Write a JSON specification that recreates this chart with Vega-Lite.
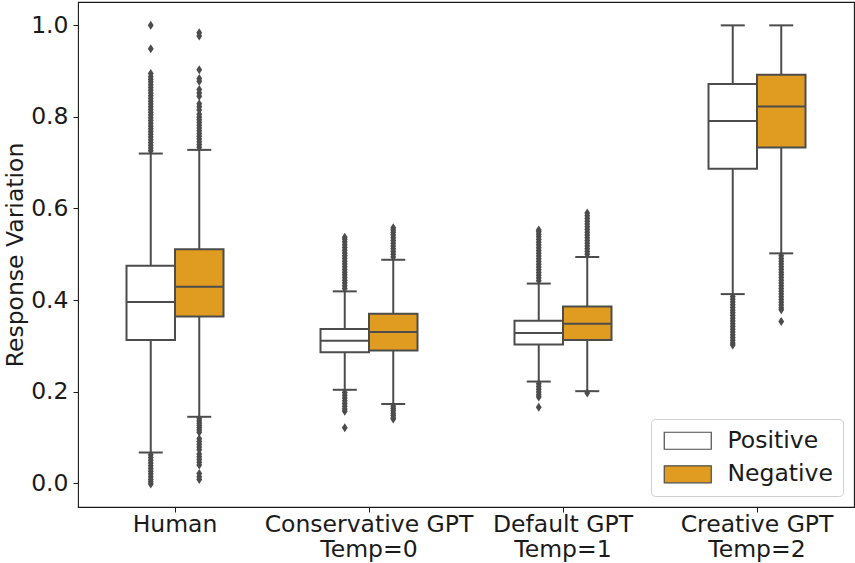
{
  "$schema": "https://vega.github.io/schema/vega-lite/v6.json",
  "width": 776,
  "height": 505,
  "autosize": {"type": "none"},
  "padding": {"left": 78, "top": 2, "right": 1, "bottom": 56},
  "background": "white",
  "config": {
    "font": "DejaVu Sans",
    "view": {"stroke": "#1a1a1a", "strokeWidth": 1.1},
    "axis": {
      "labelFont": "DejaVu Sans",
      "labelFontSize": 23.5,
      "labelColor": "#1a1a1a",
      "labelLimit": 0,
      "tickColor": "#1a1a1a",
      "tickSize": 5,
      "tickWidth": 1,
      "domain": false,
      "grid": false,
      "titleFont": "DejaVu Sans",
      "titleFontSize": 23.5,
      "titleFontWeight": "normal",
      "titleColor": "#1a1a1a"
    },
    "legend": {
      "orient": "bottom-right",
      "offset": 11,
      "padding": 10,
      "fillColor": "white",
      "strokeColor": "#d0d0d0",
      "cornerRadius": 4,
      "labelFont": "DejaVu Sans",
      "labelFontSize": 23.5,
      "labelColor": "#1a1a1a",
      "labelLimit": 0,
      "symbolType": "M-1,-1H4.53V1H-1Z",
      "symbolSize": 289,
      "symbolStrokeColor": "#4c4c4c",
      "symbolStrokeWidth": 1.2,
      "symbolOffset": 0,
      "labelOffset": 43,
      "rowPadding": 8.6
    }
  },
  "datasets": {
    "stats": [
      {"group": "Human", "sentiment": "Positive", "lo": 0.067, "q1": 0.313, "med": 0.396, "q3": 0.475, "hi": 0.720},
      {"group": "Human", "sentiment": "Negative", "lo": 0.145, "q1": 0.364, "med": 0.429, "q3": 0.511, "hi": 0.728},
      {"group": "Conservative GPT|Temp=0", "sentiment": "Positive", "lo": 0.204, "q1": 0.286, "med": 0.311, "q3": 0.337, "hi": 0.419},
      {"group": "Conservative GPT|Temp=0", "sentiment": "Negative", "lo": 0.173, "q1": 0.290, "med": 0.330, "q3": 0.370, "hi": 0.488},
      {"group": "Default GPT|Temp=1", "sentiment": "Positive", "lo": 0.222, "q1": 0.303, "med": 0.328, "q3": 0.355, "hi": 0.436},
      {"group": "Default GPT|Temp=1", "sentiment": "Negative", "lo": 0.201, "q1": 0.313, "med": 0.348, "q3": 0.386, "hi": 0.494},
      {"group": "Creative GPT|Temp=2", "sentiment": "Positive", "lo": 0.413, "q1": 0.687, "med": 0.791, "q3": 0.872, "hi": 1.0},
      {"group": "Creative GPT|Temp=2", "sentiment": "Negative", "lo": 0.502, "q1": 0.733, "med": 0.823, "q3": 0.892, "hi": 1.0}
    ],
    "fliers": [
      {"group": "Human", "sentiment": "Positive", "value": 0.726},
      {"group": "Human", "sentiment": "Positive", "value": 0.732},
      {"group": "Human", "sentiment": "Positive", "value": 0.738},
      {"group": "Human", "sentiment": "Positive", "value": 0.744},
      {"group": "Human", "sentiment": "Positive", "value": 0.750},
      {"group": "Human", "sentiment": "Positive", "value": 0.756},
      {"group": "Human", "sentiment": "Positive", "value": 0.762},
      {"group": "Human", "sentiment": "Positive", "value": 0.768},
      {"group": "Human", "sentiment": "Positive", "value": 0.774},
      {"group": "Human", "sentiment": "Positive", "value": 0.780},
      {"group": "Human", "sentiment": "Positive", "value": 0.786},
      {"group": "Human", "sentiment": "Positive", "value": 0.792},
      {"group": "Human", "sentiment": "Positive", "value": 0.798},
      {"group": "Human", "sentiment": "Positive", "value": 0.804},
      {"group": "Human", "sentiment": "Positive", "value": 0.810},
      {"group": "Human", "sentiment": "Positive", "value": 0.816},
      {"group": "Human", "sentiment": "Positive", "value": 0.822},
      {"group": "Human", "sentiment": "Positive", "value": 0.828},
      {"group": "Human", "sentiment": "Positive", "value": 0.834},
      {"group": "Human", "sentiment": "Positive", "value": 0.840},
      {"group": "Human", "sentiment": "Positive", "value": 0.846},
      {"group": "Human", "sentiment": "Positive", "value": 0.852},
      {"group": "Human", "sentiment": "Positive", "value": 0.858},
      {"group": "Human", "sentiment": "Positive", "value": 0.864},
      {"group": "Human", "sentiment": "Positive", "value": 0.870},
      {"group": "Human", "sentiment": "Positive", "value": 0.876},
      {"group": "Human", "sentiment": "Positive", "value": 0.882},
      {"group": "Human", "sentiment": "Positive", "value": 0.888},
      {"group": "Human", "sentiment": "Positive", "value": 0.895},
      {"group": "Human", "sentiment": "Positive", "value": 0.949},
      {"group": "Human", "sentiment": "Positive", "value": 1.0},
      {"group": "Human", "sentiment": "Positive", "value": 0.062},
      {"group": "Human", "sentiment": "Positive", "value": 0.056},
      {"group": "Human", "sentiment": "Positive", "value": 0.050},
      {"group": "Human", "sentiment": "Positive", "value": 0.044},
      {"group": "Human", "sentiment": "Positive", "value": 0.038},
      {"group": "Human", "sentiment": "Positive", "value": 0.032},
      {"group": "Human", "sentiment": "Positive", "value": 0.026},
      {"group": "Human", "sentiment": "Positive", "value": 0.020},
      {"group": "Human", "sentiment": "Positive", "value": 0.014},
      {"group": "Human", "sentiment": "Positive", "value": 0.008},
      {"group": "Human", "sentiment": "Positive", "value": 0.003},
      {"group": "Human", "sentiment": "Positive", "value": -0.002},
      {"group": "Human", "sentiment": "Negative", "value": 0.734},
      {"group": "Human", "sentiment": "Negative", "value": 0.740},
      {"group": "Human", "sentiment": "Negative", "value": 0.746},
      {"group": "Human", "sentiment": "Negative", "value": 0.752},
      {"group": "Human", "sentiment": "Negative", "value": 0.758},
      {"group": "Human", "sentiment": "Negative", "value": 0.764},
      {"group": "Human", "sentiment": "Negative", "value": 0.770},
      {"group": "Human", "sentiment": "Negative", "value": 0.776},
      {"group": "Human", "sentiment": "Negative", "value": 0.782},
      {"group": "Human", "sentiment": "Negative", "value": 0.788},
      {"group": "Human", "sentiment": "Negative", "value": 0.794},
      {"group": "Human", "sentiment": "Negative", "value": 0.800},
      {"group": "Human", "sentiment": "Negative", "value": 0.806},
      {"group": "Human", "sentiment": "Negative", "value": 0.815},
      {"group": "Human", "sentiment": "Negative", "value": 0.822},
      {"group": "Human", "sentiment": "Negative", "value": 0.829},
      {"group": "Human", "sentiment": "Negative", "value": 0.845},
      {"group": "Human", "sentiment": "Negative", "value": 0.852},
      {"group": "Human", "sentiment": "Negative", "value": 0.860},
      {"group": "Human", "sentiment": "Negative", "value": 0.878},
      {"group": "Human", "sentiment": "Negative", "value": 0.884},
      {"group": "Human", "sentiment": "Negative", "value": 0.903},
      {"group": "Human", "sentiment": "Negative", "value": 0.977},
      {"group": "Human", "sentiment": "Negative", "value": 0.984},
      {"group": "Human", "sentiment": "Negative", "value": 0.141},
      {"group": "Human", "sentiment": "Negative", "value": 0.136},
      {"group": "Human", "sentiment": "Negative", "value": 0.131},
      {"group": "Human", "sentiment": "Negative", "value": 0.126},
      {"group": "Human", "sentiment": "Negative", "value": 0.121},
      {"group": "Human", "sentiment": "Negative", "value": 0.116},
      {"group": "Human", "sentiment": "Negative", "value": 0.111},
      {"group": "Human", "sentiment": "Negative", "value": 0.097},
      {"group": "Human", "sentiment": "Negative", "value": 0.091},
      {"group": "Human", "sentiment": "Negative", "value": 0.085},
      {"group": "Human", "sentiment": "Negative", "value": 0.079},
      {"group": "Human", "sentiment": "Negative", "value": 0.073},
      {"group": "Human", "sentiment": "Negative", "value": 0.064},
      {"group": "Human", "sentiment": "Negative", "value": 0.058},
      {"group": "Human", "sentiment": "Negative", "value": 0.052},
      {"group": "Human", "sentiment": "Negative", "value": 0.046},
      {"group": "Human", "sentiment": "Negative", "value": 0.040},
      {"group": "Human", "sentiment": "Negative", "value": 0.021},
      {"group": "Human", "sentiment": "Negative", "value": 0.014},
      {"group": "Human", "sentiment": "Negative", "value": 0.008},
      {"group": "Conservative GPT|Temp=0", "sentiment": "Positive", "value": 0.425},
      {"group": "Conservative GPT|Temp=0", "sentiment": "Positive", "value": 0.431},
      {"group": "Conservative GPT|Temp=0", "sentiment": "Positive", "value": 0.437},
      {"group": "Conservative GPT|Temp=0", "sentiment": "Positive", "value": 0.443},
      {"group": "Conservative GPT|Temp=0", "sentiment": "Positive", "value": 0.449},
      {"group": "Conservative GPT|Temp=0", "sentiment": "Positive", "value": 0.455},
      {"group": "Conservative GPT|Temp=0", "sentiment": "Positive", "value": 0.461},
      {"group": "Conservative GPT|Temp=0", "sentiment": "Positive", "value": 0.467},
      {"group": "Conservative GPT|Temp=0", "sentiment": "Positive", "value": 0.473},
      {"group": "Conservative GPT|Temp=0", "sentiment": "Positive", "value": 0.479},
      {"group": "Conservative GPT|Temp=0", "sentiment": "Positive", "value": 0.485},
      {"group": "Conservative GPT|Temp=0", "sentiment": "Positive", "value": 0.491},
      {"group": "Conservative GPT|Temp=0", "sentiment": "Positive", "value": 0.497},
      {"group": "Conservative GPT|Temp=0", "sentiment": "Positive", "value": 0.503},
      {"group": "Conservative GPT|Temp=0", "sentiment": "Positive", "value": 0.509},
      {"group": "Conservative GPT|Temp=0", "sentiment": "Positive", "value": 0.515},
      {"group": "Conservative GPT|Temp=0", "sentiment": "Positive", "value": 0.521},
      {"group": "Conservative GPT|Temp=0", "sentiment": "Positive", "value": 0.527},
      {"group": "Conservative GPT|Temp=0", "sentiment": "Positive", "value": 0.533},
      {"group": "Conservative GPT|Temp=0", "sentiment": "Positive", "value": 0.537},
      {"group": "Conservative GPT|Temp=0", "sentiment": "Positive", "value": 0.198},
      {"group": "Conservative GPT|Temp=0", "sentiment": "Positive", "value": 0.192},
      {"group": "Conservative GPT|Temp=0", "sentiment": "Positive", "value": 0.186},
      {"group": "Conservative GPT|Temp=0", "sentiment": "Positive", "value": 0.180},
      {"group": "Conservative GPT|Temp=0", "sentiment": "Positive", "value": 0.174},
      {"group": "Conservative GPT|Temp=0", "sentiment": "Positive", "value": 0.168},
      {"group": "Conservative GPT|Temp=0", "sentiment": "Positive", "value": 0.162},
      {"group": "Conservative GPT|Temp=0", "sentiment": "Positive", "value": 0.157},
      {"group": "Conservative GPT|Temp=0", "sentiment": "Positive", "value": 0.121},
      {"group": "Conservative GPT|Temp=0", "sentiment": "Negative", "value": 0.494},
      {"group": "Conservative GPT|Temp=0", "sentiment": "Negative", "value": 0.500},
      {"group": "Conservative GPT|Temp=0", "sentiment": "Negative", "value": 0.506},
      {"group": "Conservative GPT|Temp=0", "sentiment": "Negative", "value": 0.512},
      {"group": "Conservative GPT|Temp=0", "sentiment": "Negative", "value": 0.518},
      {"group": "Conservative GPT|Temp=0", "sentiment": "Negative", "value": 0.524},
      {"group": "Conservative GPT|Temp=0", "sentiment": "Negative", "value": 0.530},
      {"group": "Conservative GPT|Temp=0", "sentiment": "Negative", "value": 0.536},
      {"group": "Conservative GPT|Temp=0", "sentiment": "Negative", "value": 0.542},
      {"group": "Conservative GPT|Temp=0", "sentiment": "Negative", "value": 0.548},
      {"group": "Conservative GPT|Temp=0", "sentiment": "Negative", "value": 0.553},
      {"group": "Conservative GPT|Temp=0", "sentiment": "Negative", "value": 0.558},
      {"group": "Conservative GPT|Temp=0", "sentiment": "Negative", "value": 0.168},
      {"group": "Conservative GPT|Temp=0", "sentiment": "Negative", "value": 0.163},
      {"group": "Conservative GPT|Temp=0", "sentiment": "Negative", "value": 0.158},
      {"group": "Conservative GPT|Temp=0", "sentiment": "Negative", "value": 0.153},
      {"group": "Conservative GPT|Temp=0", "sentiment": "Negative", "value": 0.148},
      {"group": "Conservative GPT|Temp=0", "sentiment": "Negative", "value": 0.143},
      {"group": "Conservative GPT|Temp=0", "sentiment": "Negative", "value": 0.140},
      {"group": "Default GPT|Temp=1", "sentiment": "Positive", "value": 0.442},
      {"group": "Default GPT|Temp=1", "sentiment": "Positive", "value": 0.448},
      {"group": "Default GPT|Temp=1", "sentiment": "Positive", "value": 0.454},
      {"group": "Default GPT|Temp=1", "sentiment": "Positive", "value": 0.460},
      {"group": "Default GPT|Temp=1", "sentiment": "Positive", "value": 0.466},
      {"group": "Default GPT|Temp=1", "sentiment": "Positive", "value": 0.472},
      {"group": "Default GPT|Temp=1", "sentiment": "Positive", "value": 0.478},
      {"group": "Default GPT|Temp=1", "sentiment": "Positive", "value": 0.484},
      {"group": "Default GPT|Temp=1", "sentiment": "Positive", "value": 0.490},
      {"group": "Default GPT|Temp=1", "sentiment": "Positive", "value": 0.496},
      {"group": "Default GPT|Temp=1", "sentiment": "Positive", "value": 0.502},
      {"group": "Default GPT|Temp=1", "sentiment": "Positive", "value": 0.508},
      {"group": "Default GPT|Temp=1", "sentiment": "Positive", "value": 0.514},
      {"group": "Default GPT|Temp=1", "sentiment": "Positive", "value": 0.520},
      {"group": "Default GPT|Temp=1", "sentiment": "Positive", "value": 0.526},
      {"group": "Default GPT|Temp=1", "sentiment": "Positive", "value": 0.532},
      {"group": "Default GPT|Temp=1", "sentiment": "Positive", "value": 0.538},
      {"group": "Default GPT|Temp=1", "sentiment": "Positive", "value": 0.544},
      {"group": "Default GPT|Temp=1", "sentiment": "Positive", "value": 0.549},
      {"group": "Default GPT|Temp=1", "sentiment": "Positive", "value": 0.553},
      {"group": "Default GPT|Temp=1", "sentiment": "Positive", "value": 0.217},
      {"group": "Default GPT|Temp=1", "sentiment": "Positive", "value": 0.211},
      {"group": "Default GPT|Temp=1", "sentiment": "Positive", "value": 0.205},
      {"group": "Default GPT|Temp=1", "sentiment": "Positive", "value": 0.199},
      {"group": "Default GPT|Temp=1", "sentiment": "Positive", "value": 0.193},
      {"group": "Default GPT|Temp=1", "sentiment": "Positive", "value": 0.188},
      {"group": "Default GPT|Temp=1", "sentiment": "Positive", "value": 0.166},
      {"group": "Default GPT|Temp=1", "sentiment": "Negative", "value": 0.500},
      {"group": "Default GPT|Temp=1", "sentiment": "Negative", "value": 0.506},
      {"group": "Default GPT|Temp=1", "sentiment": "Negative", "value": 0.512},
      {"group": "Default GPT|Temp=1", "sentiment": "Negative", "value": 0.518},
      {"group": "Default GPT|Temp=1", "sentiment": "Negative", "value": 0.524},
      {"group": "Default GPT|Temp=1", "sentiment": "Negative", "value": 0.530},
      {"group": "Default GPT|Temp=1", "sentiment": "Negative", "value": 0.536},
      {"group": "Default GPT|Temp=1", "sentiment": "Negative", "value": 0.542},
      {"group": "Default GPT|Temp=1", "sentiment": "Negative", "value": 0.548},
      {"group": "Default GPT|Temp=1", "sentiment": "Negative", "value": 0.554},
      {"group": "Default GPT|Temp=1", "sentiment": "Negative", "value": 0.560},
      {"group": "Default GPT|Temp=1", "sentiment": "Negative", "value": 0.566},
      {"group": "Default GPT|Temp=1", "sentiment": "Negative", "value": 0.572},
      {"group": "Default GPT|Temp=1", "sentiment": "Negative", "value": 0.578},
      {"group": "Default GPT|Temp=1", "sentiment": "Negative", "value": 0.584},
      {"group": "Default GPT|Temp=1", "sentiment": "Negative", "value": 0.590},
      {"group": "Default GPT|Temp=1", "sentiment": "Negative", "value": 0.197},
      {"group": "Creative GPT|Temp=2", "sentiment": "Positive", "value": 0.408},
      {"group": "Creative GPT|Temp=2", "sentiment": "Positive", "value": 0.402},
      {"group": "Creative GPT|Temp=2", "sentiment": "Positive", "value": 0.396},
      {"group": "Creative GPT|Temp=2", "sentiment": "Positive", "value": 0.390},
      {"group": "Creative GPT|Temp=2", "sentiment": "Positive", "value": 0.384},
      {"group": "Creative GPT|Temp=2", "sentiment": "Positive", "value": 0.378},
      {"group": "Creative GPT|Temp=2", "sentiment": "Positive", "value": 0.372},
      {"group": "Creative GPT|Temp=2", "sentiment": "Positive", "value": 0.366},
      {"group": "Creative GPT|Temp=2", "sentiment": "Positive", "value": 0.360},
      {"group": "Creative GPT|Temp=2", "sentiment": "Positive", "value": 0.354},
      {"group": "Creative GPT|Temp=2", "sentiment": "Positive", "value": 0.348},
      {"group": "Creative GPT|Temp=2", "sentiment": "Positive", "value": 0.342},
      {"group": "Creative GPT|Temp=2", "sentiment": "Positive", "value": 0.336},
      {"group": "Creative GPT|Temp=2", "sentiment": "Positive", "value": 0.330},
      {"group": "Creative GPT|Temp=2", "sentiment": "Positive", "value": 0.324},
      {"group": "Creative GPT|Temp=2", "sentiment": "Positive", "value": 0.318},
      {"group": "Creative GPT|Temp=2", "sentiment": "Positive", "value": 0.312},
      {"group": "Creative GPT|Temp=2", "sentiment": "Positive", "value": 0.306},
      {"group": "Creative GPT|Temp=2", "sentiment": "Positive", "value": 0.302},
      {"group": "Creative GPT|Temp=2", "sentiment": "Negative", "value": 0.497},
      {"group": "Creative GPT|Temp=2", "sentiment": "Negative", "value": 0.491},
      {"group": "Creative GPT|Temp=2", "sentiment": "Negative", "value": 0.485},
      {"group": "Creative GPT|Temp=2", "sentiment": "Negative", "value": 0.479},
      {"group": "Creative GPT|Temp=2", "sentiment": "Negative", "value": 0.473},
      {"group": "Creative GPT|Temp=2", "sentiment": "Negative", "value": 0.467},
      {"group": "Creative GPT|Temp=2", "sentiment": "Negative", "value": 0.461},
      {"group": "Creative GPT|Temp=2", "sentiment": "Negative", "value": 0.455},
      {"group": "Creative GPT|Temp=2", "sentiment": "Negative", "value": 0.449},
      {"group": "Creative GPT|Temp=2", "sentiment": "Negative", "value": 0.443},
      {"group": "Creative GPT|Temp=2", "sentiment": "Negative", "value": 0.437},
      {"group": "Creative GPT|Temp=2", "sentiment": "Negative", "value": 0.431},
      {"group": "Creative GPT|Temp=2", "sentiment": "Negative", "value": 0.425},
      {"group": "Creative GPT|Temp=2", "sentiment": "Negative", "value": 0.419},
      {"group": "Creative GPT|Temp=2", "sentiment": "Negative", "value": 0.413},
      {"group": "Creative GPT|Temp=2", "sentiment": "Negative", "value": 0.407},
      {"group": "Creative GPT|Temp=2", "sentiment": "Negative", "value": 0.401},
      {"group": "Creative GPT|Temp=2", "sentiment": "Negative", "value": 0.395},
      {"group": "Creative GPT|Temp=2", "sentiment": "Negative", "value": 0.389},
      {"group": "Creative GPT|Temp=2", "sentiment": "Negative", "value": 0.383},
      {"group": "Creative GPT|Temp=2", "sentiment": "Negative", "value": 0.379},
      {"group": "Creative GPT|Temp=2", "sentiment": "Negative", "value": 0.353}
    ]
  },
  "encoding": {
    "x": {
      "field": "group",
      "type": "nominal",
      "scale": {
        "domain": ["Human", "Conservative GPT|Temp=0", "Default GPT|Temp=1", "Creative GPT|Temp=2"],
        "paddingInner": 0,
        "paddingOuter": 0
      },
      "axis": {
        "title": null,
        "labelAngle": 0,
        "labelPadding": 0,
        "labelLineHeight": 25.6,
        "labelBaseline": "top",
        "labelExpr": "split(datum.label, '|')"
      }
    },
    "xOffset": {
      "field": "sentiment",
      "type": "nominal",
      "scale": {"domain": ["Positive", "Negative"], "paddingInner": 0, "paddingOuter": 1.02}
    }
  },
  "layer": [
    {
      "data": {"name": "stats"},
      "mark": {"type": "rule", "color": "#4c4c4c", "strokeWidth": 2},
      "encoding": {
        "y": {
          "field": "lo",
          "type": "quantitative",
          "scale": {"domain": [-0.052, 1.051], "nice": false, "zero": false},
          "axis": {
            "title": "Response Variation",
            "values": [0, 0.2, 0.4, 0.6, 0.8, 1.0],
            "format": ".1f",
            "labelPadding": 5,
            "titlePadding": 3
          }
        },
        "y2": {"field": "hi"}
      }
    },
    {
      "data": {"name": "stats"},
      "mark": {"type": "bar", "stroke": "#4c4c4c", "strokeWidth": 2, "opacity": 1},
      "encoding": {
        "y": {"field": "q1", "type": "quantitative"},
        "y2": {"field": "q3"},
        "fill": {
          "field": "sentiment",
          "type": "nominal",
          "scale": {"domain": ["Positive", "Negative"], "range": ["#ffffff", "#df9c20"]},
          "legend": {"title": null}
        }
      }
    },
    {
      "data": {"name": "stats"},
      "mark": {"type": "tick", "color": "#4c4c4c", "size": 48, "thickness": 2, "opacity": 1},
      "encoding": {"y": {"field": "med", "type": "quantitative"}}
    },
    {
      "data": {"name": "stats"},
      "mark": {"type": "tick", "color": "#4c4c4c", "size": 24, "thickness": 2, "opacity": 1},
      "encoding": {"y": {"field": "hi", "type": "quantitative"}}
    },
    {
      "data": {"name": "stats"},
      "mark": {"type": "tick", "color": "#4c4c4c", "size": 24, "thickness": 2, "opacity": 1},
      "encoding": {"y": {"field": "lo", "type": "quantitative"}}
    },
    {
      "data": {"name": "fliers"},
      "mark": {
        "type": "point",
        "shape": "M0,-1L0.65,0L0,1L-0.65,0Z",
        "size": 81,
        "filled": true,
        "color": "#4c4c4c",
        "opacity": 1
      },
      "encoding": {"y": {"field": "value", "type": "quantitative"}}
    }
  ]
}
